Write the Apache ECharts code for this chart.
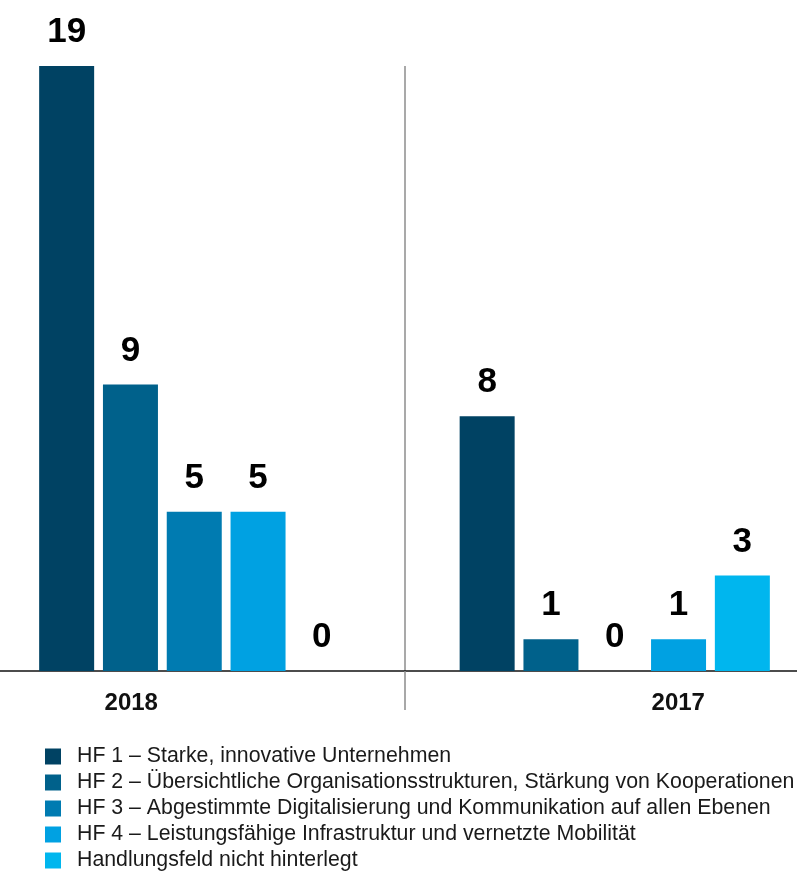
<!DOCTYPE html>
<html>
<head>
<meta charset="utf-8">
<script src="https://cdn.jsdelivr.net/npm/echarts@6/dist/echarts.min.js"></script>
<style>
  html, body { margin: 0; padding: 0; background: #fff; overflow: hidden; }
  /* Kategorien reichen im Original über den Bildrand hinaus */
  #hfChart { width: 841px; height: 879px; margin-left: -16px; }
</style>
</head>
<body>
<div id="hfChart"></div>
<script>
// Jahre (Kategorien)
const years = ['2018', '2017']
// Handlungsfelder
const seriesNames = [
  'HF 1 – Starke, innovative Unternehmen',
  'HF 2 – Übersichtliche Organisationsstrukturen, Stärkung von Kooperationen',
  'HF 3 – Abgestimmte Digitalisierung und Kommunikation auf allen Ebenen',
  'HF 4 – Leistungsfähige Infrastruktur und vernetzte Mobilität',
  'Handlungsfeld nicht hinterlegt'
]
const hf1 = [19, 8]
const hf2 = [9, 1]
const hf3 = [5, 0]
const hf4 = [5, 1]
const hfNone = [0, 3]
const colors = ['#004263', '#00618b', '#007bb1', '#00a1e2', '#00b6ee']

const fontFamily = "'Liberation Sans', Arial, sans-serif"
const barWidth = 55

const chart = echarts.init(document.getElementById('hfChart'))

const allData = [hf1, hf2, hf3, hf4, hfNone]
const series = allData.map(function (d, i) {
  return {
    name: seriesNames[i],
    type: 'bar',
    data: d,
    barWidth: barWidth,
    barGap: '16%',
    itemStyle: { color: colors[i] },
    label: {
      show: true,
      position: 'top',
      distance: 16,
      color: '#000',
      fontSize: 35,
      fontWeight: 'bold',
      fontFamily: fontFamily
    }
  }
})

const option = {
  backgroundColor: '#fff',
  animation: false,
  legend: {
    data: seriesNames,
    orient: 'vertical',
    left: 61,
    top: 746,
    padding: 0,
    icon: 'rect',
    itemWidth: 16,
    itemHeight: 16,
    itemGap: 5,
    textStyle: {
      color: '#1a1a1a',
      fontSize: 21.3,
      fontFamily: fontFamily,
      padding: [0, 0, 0, 11]
    }
  },
  grid: {
    left: 0,
    right: 0,
    top: 66,
    bottom: 208,
    containLabel: false
  },
  xAxis: [{
    type: 'category',
    data: years,
    axisLine: {
      show: true,
      lineStyle: { color: '#111', width: 1.5 }
    },
    axisTick: {
      show: true,
      length: 39,
      lineStyle: { color: '#8c8c8c', width: 1.5 }
    },
    splitLine: {
      show: true,
      lineStyle: { color: '#8c8c8c', width: 1.5 }
    },
    axisLabel: {
      margin: 20,
      formatter: function (value, idx) {
        return idx === 0 ? '{a|' + value + '}' : '{b|' + value + '}'
      },
      rich: {
        a: { fontSize: 24, fontWeight: 'bold', color: '#111', fontFamily: fontFamily, padding: [0, 126, 0, 0] },
        b: { fontSize: 24, fontWeight: 'bold', color: '#111', fontFamily: fontFamily, padding: [0, 0, 0, 127] }
      }
    }
  }],
  yAxis: [{
    type: 'value',
    min: 0,
    max: 19,
    show: false,
    splitLine: { show: false }
  }],
  series: series
}

chart.setOption(option)
</script>
</body>
</html>
